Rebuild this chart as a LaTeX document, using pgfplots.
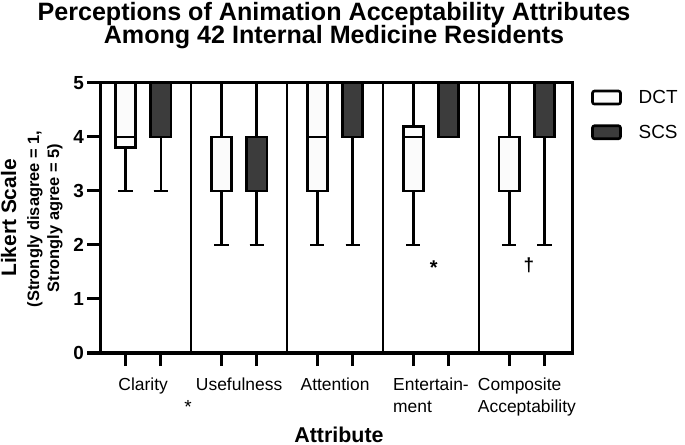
\documentclass[border=0pt]{standalone}
\usepackage{fontspec}
\setmainfont{Liberation Sans}
\usepackage{pgfplots}
\pgfplotsset{compat=1.18}
\usepgfplotslibrary{statistics}
\definecolor{scs}{RGB}{60,60,60}
\definecolor{dct}{RGB}{251,251,251}
\begin{document}
\begin{tikzpicture}
\useasboundingbox (0,0) rectangle (685bp,445bp);
\begin{axis}[
  at={(100bp,92bp)}, anchor=south west,
  scale only axis, width=472bp, height=270bp,
  xmin=-0.45, xmax=4.47, ymin=0, ymax=5,
  axis line style={line width=3bp},
  tick style={line width=3bp, black},
  major tick length=13bp,
  tick align=outside,
  xtick pos=bottom, ytick pos=left,
  ytick={0,1,2,3,4,5},
  /pgf/number format/assume math mode=true,
  yticklabel style={font=\fontsize{19}{19}\selectfont\bfseries, inner sep=3bp},
  xtick={-0.185,0.185,0.815,1.185,1.815,2.185,2.815,3.185,3.815,4.185},
  xticklabels={},
  extra x ticks={0,1,2,3,4},
  extra x tick labels={Clarity,Usefulness,Attention,{Entertain-\\ment},{Composite\\Acceptability}},
  extra x tick style={major tick length=0pt, tick style={draw=none},
    xticklabel style={font=\fontsize{17.5}{22}\selectfont, align=left, anchor=north, yshift=-21bp}},
  legend style={at={(axis description cs:1,1)}, anchor=north west, xshift=16bp, yshift=-2bp,
    draw=none, fill=none, font=\fontsize{19}{19}\selectfont, row sep=14bp,
    nodes={inner sep=3bp}},
  legend cell align=left,
  legend image code/.code={\draw[#1, line width=2.6bp, rounded corners=2bp] (2bp,-6.5bp) rectangle (30bp,6.5bp); \path (45bp,0bp);},
  boxplot/draw direction=y,
]
% separators
\draw[line width=1.8bp] (axis cs:0.5,0) -- (axis cs:0.5,5);
\draw[line width=1.8bp] (axis cs:1.5,0) -- (axis cs:1.5,5);
\draw[line width=1.8bp] (axis cs:2.5,0) -- (axis cs:2.5,5);
\draw[line width=1.8bp] (axis cs:3.5,0) -- (axis cs:3.5,5);

\pgfplotsset{bxd/.style={draw=black, fill=dct, line width=2.8bp, solid, mark=none, forget plot},
             bxs/.style={draw=black, fill=scs, line width=2.8bp, solid, mark=none, forget plot}}
% Clarity
\addplot[bxd, boxplot prepared={draw position=-0.185, median=4, lower quartile=3.8, upper quartile=5, lower whisker=3, upper whisker=5, box extend=0.21, whisker extend=0.15}] coordinates {};
\addplot[bxs, boxplot prepared={draw position=0.185, median=4, lower quartile=4, upper quartile=5, lower whisker=3, upper whisker=5, box extend=0.21, whisker extend=0.15}] coordinates {};
% Usefulness
\addplot[bxd, boxplot prepared={draw position=0.815, median=4, lower quartile=3, upper quartile=4, lower whisker=2, upper whisker=5, box extend=0.21, whisker extend=0.15}] coordinates {};
\addplot[bxs, boxplot prepared={draw position=1.185, median=4, lower quartile=3, upper quartile=4, lower whisker=2, upper whisker=5, box extend=0.21, whisker extend=0.15}] coordinates {};
% Attention
\addplot[bxd, boxplot prepared={draw position=1.815, median=4, lower quartile=3, upper quartile=5, lower whisker=2, upper whisker=5, box extend=0.21, whisker extend=0.15}] coordinates {};
\addplot[bxs, boxplot prepared={draw position=2.185, median=4, lower quartile=4, upper quartile=5, lower whisker=2, upper whisker=5, box extend=0.21, whisker extend=0.15}] coordinates {};
% Entertainment
\addplot[bxd, boxplot prepared={draw position=2.815, median=4, lower quartile=3, upper quartile=4.2, lower whisker=2, upper whisker=5, box extend=0.21, whisker extend=0.15}] coordinates {};
\addplot[bxs, boxplot prepared={draw position=3.185, median=4, lower quartile=4, upper quartile=5, lower whisker=4, upper whisker=5, box extend=0.21, whisker extend=0.0}] coordinates {};
% Composite
\addplot[bxd, boxplot prepared={draw position=3.815, median=4, lower quartile=3, upper quartile=4, lower whisker=2, upper whisker=5, box extend=0.21, whisker extend=0.15}] coordinates {};
\addplot[bxs, boxplot prepared={draw position=4.185, median=4, lower quartile=4, upper quartile=5, lower whisker=2, upper whisker=5, box extend=0.21, whisker extend=0.15}] coordinates {};

\addlegendimage{draw=black, fill=dct}
\addlegendentry{DCT}
\addlegendimage{draw=black, fill=scs}
\addlegendentry{SCS}

\node[font=\fontsize{20}{20}\selectfont\bfseries] at (axis cs:3.03,1.58) {*};
\node[font=\fontsize{19}{19}\selectfont\bfseries] at (axis cs:4.02,1.62) {\char"2020};
\end{axis}
% titles and labels
\node[anchor=base, font=\fontsize{25.2}{25.2}\selectfont\bfseries] at (334bp,424.5bp) {Perceptions of Animation Acceptability Attributes};
\node[anchor=base, font=\fontsize{25.2}{25.2}\selectfont\bfseries] at (334bp,401bp) {Among 42 Internal Medicine Residents};
\node[rotate=90, anchor=base, font=\fontsize{21}{21}\selectfont\bfseries] at (16bp,227bp) {Likert Scale};
\node[rotate=90, anchor=base, font=\fontsize{16.5}{16.5}\selectfont\bfseries] at (39bp,226bp) {(Strongly disagree = 1,};
\node[rotate=90, anchor=base, font=\fontsize{16.5}{16.5}\selectfont\bfseries] at (59bp,227bp) {Strongly agree = 5)};
\node[anchor=base, font=\fontsize{21.5}{21.5}\selectfont\bfseries] at (339bp,3bp) {Attribute};
\node[font=\fontsize{19}{19}\selectfont] at (188bp,38bp) {*};
\end{tikzpicture}
\end{document}
